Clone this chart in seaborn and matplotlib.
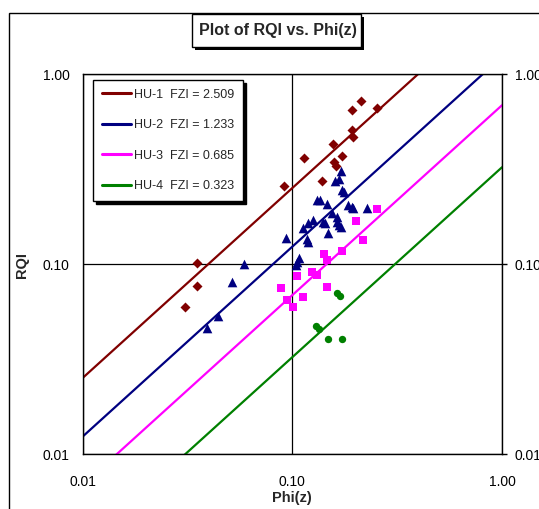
import matplotlib
matplotlib.use('Agg')
import matplotlib.pyplot as plt
from matplotlib.patches import Rectangle
from matplotlib.lines import Line2D
from matplotlib.ticker import FixedLocator, FuncFormatter, NullLocator
import pandas as pd
import seaborn as sns

# hydraulic units and their flow zone indicator
units = ['HU-1', 'HU-2', 'HU-3', 'HU-4']
fzi = [2.509, 1.233, 0.685, 0.323]
colors = ['#800000', '#000080', '#FF00FF', '#008000']
markers = ['D', '^', 's', 'o']
marker_sizes = [26, 48, 36, 28]

# sample points (Phi(z), RQI)
hu1_phi = [0.0916, 0.1137, 0.1386, 0.1568, 0.158, 0.161, 0.172, 0.192, 0.212,
           0.192, 0.195, 0.253, 0.0353, 0.0353, 0.0308]
hu1_rqi = [0.256, 0.361, 0.275, 0.430, 0.346, 0.326, 0.368, 0.649, 0.717,
           0.508, 0.465, 0.664, 0.101, 0.0764, 0.0597]

hu2_phi = [0.170, 0.160, 0.1675, 0.173, 0.177, 0.1316, 0.1355, 0.1468, 0.185,
           0.192, 0.195, 0.228, 0.154, 0.125, 0.119, 0.1405, 0.1432, 0.164,
           0.1675, 0.170, 0.1128, 0.1485, 0.0933, 0.117, 0.119, 0.108, 0.1056,
           0.1038, 0.0589, 0.0514, 0.0441, 0.0391, 0.163]
hu2_rqi = [0.310, 0.274, 0.279, 0.245, 0.238, 0.216, 0.217, 0.207, 0.205,
           0.200, 0.197, 0.197, 0.185, 0.171, 0.165, 0.167, 0.164, 0.167,
           0.160, 0.157, 0.154, 0.146, 0.137, 0.135, 0.131, 0.107, 0.103,
           0.099, 0.100, 0.080, 0.0532, 0.0459, 0.177]

hu3_phi = [0.254, 0.201, 0.217, 0.172, 0.1416, 0.1468, 0.1237, 0.1306, 0.1056,
           0.1468, 0.0881, 0.1128, 0.0940, 0.1011]
hu3_rqi = [0.194, 0.168, 0.134, 0.117, 0.113, 0.105, 0.0908, 0.0875, 0.0865,
           0.0760, 0.075, 0.0673, 0.0647, 0.0591]

hu4_phi = [0.163, 0.168, 0.1298, 0.134, 0.1485, 0.172]
hu4_rqi = [0.070, 0.0675, 0.0474, 0.0455, 0.0401, 0.0401]

phi_range = [0.01, 1.0]

sns.set_style('white')
plt.rcParams['font.family'] = ['Liberation Sans', 'DejaVu Sans']

W, H = 539, 509
fig = plt.figure(figsize=(W / 100, H / 100), dpi=100)
ax = fig.add_axes([82.5 / W, (H - 454) / H, 419.5 / W, 380 / H])

# RQI = FZI * Phi(z) lines
labels = [f'{u}  FZI = {f:.3f}' for u, f in zip(units, fzi)]
rows = []
for lab, f in zip(labels, fzi):
    for p in phi_range:
        rows.append({'label': lab, 'phi': p, 'rqi': f * p})
lines_df = pd.DataFrame(rows)
sns.lineplot(data=lines_df, x='phi', y='rqi', hue='label', hue_order=labels,
             palette=colors, linewidth=1.6, estimator=None, sort=False,
             legend=False, ax=ax)

point_sets = [(hu1_phi, hu1_rqi), (hu2_phi, hu2_rqi), (hu3_phi, hu3_rqi), (hu4_phi, hu4_rqi)]
for (px, py), c, m, s in zip(point_sets, colors, markers, marker_sizes):
    sns.scatterplot(x=px, y=py, color=c, marker=m, s=s, linewidth=0,
                    zorder=3, ax=ax)

ax.set_xscale('log')
ax.set_yscale('log')
ax.set_xlim(0.01, 1)
ax.set_ylim(0.01, 1)

fmt = FuncFormatter(lambda v, p: f'{v:.2f}')
for axis in (ax.xaxis, ax.yaxis):
    axis.set_major_locator(FixedLocator([0.01, 0.1, 1.0]))
    axis.set_major_formatter(fmt)
    axis.set_minor_locator(NullLocator())

ax.tick_params(axis='both', which='major', direction='out', length=3.8, width=1,
               color='black', labelsize=10, labelcolor='black')
ax.tick_params(axis='x', pad=11)
# secondary value labels on the right, as in the original (they run off the edge)
ax.tick_params(axis='y', pad=5.5, right=True, labelright=True)
ax.grid(True, which='major', color='black', linewidth=0.9)
for sp in ax.spines.values():
    sp.set_color('black')
    sp.set_linewidth(1)

ax.set_xlabel('Phi(z)', fontsize=10.5, fontweight='bold')
ax.set_ylabel('RQI', fontsize=10.5, fontweight='bold')
ax.xaxis.set_label_coords(0.5, (454 - 491) / 380)
ax.yaxis.set_label_coords((21.7 - 82.5) / 419.5, (454 - 265) / 380)
ax.yaxis.label.set_verticalalignment('center')

handles = [Line2D([], [], color=c, linewidth=2.2) for c in colors]
leg = ax.legend(handles, labels, loc='upper left',
                bbox_to_anchor=((93.3 - 82.5) / 419.5, (454 - 80) / 380),
                borderaxespad=0, fontsize=9, labelspacing=1.48, handlelength=2.3,
                handletextpad=0.25, borderpad=0.7, fancybox=False, framealpha=1,
                edgecolor='black',
                shadow={'ox': 2.2, 'oy': -2.2, 'facecolor': 'black',
                        'edgecolor': 'black', 'alpha': 1})
leg.get_frame().set_linewidth(1)

# outer chart frame (runs off the right and bottom edges)
fig.add_artist(Rectangle((9.3 / W, -0.05), 1.1, 1 - 12.7 / H + 0.05,
                         transform=fig.transFigure, fill=False,
                         edgecolor='black', linewidth=1))

# boxed title with drop shadow
bx, by, bw, bh = 192 / W, 1 - 47 / H, 169 / W, 33.5 / H
fig.add_artist(Rectangle((bx + 3 / W, by - 3 / H), bw, bh,
                         transform=fig.transFigure, facecolor='black',
                         edgecolor='black', linewidth=0))
fig.add_artist(Rectangle((bx, by), bw, bh, transform=fig.transFigure,
                         facecolor='white', edgecolor='black', linewidth=1))
fig.text(278 / W, by + bh / 2, 'Plot of RQI vs. Phi(z)', ha='center',
         va='center', fontsize=11.5, fontweight='bold')

fig.savefig('out.png', dpi=100)
